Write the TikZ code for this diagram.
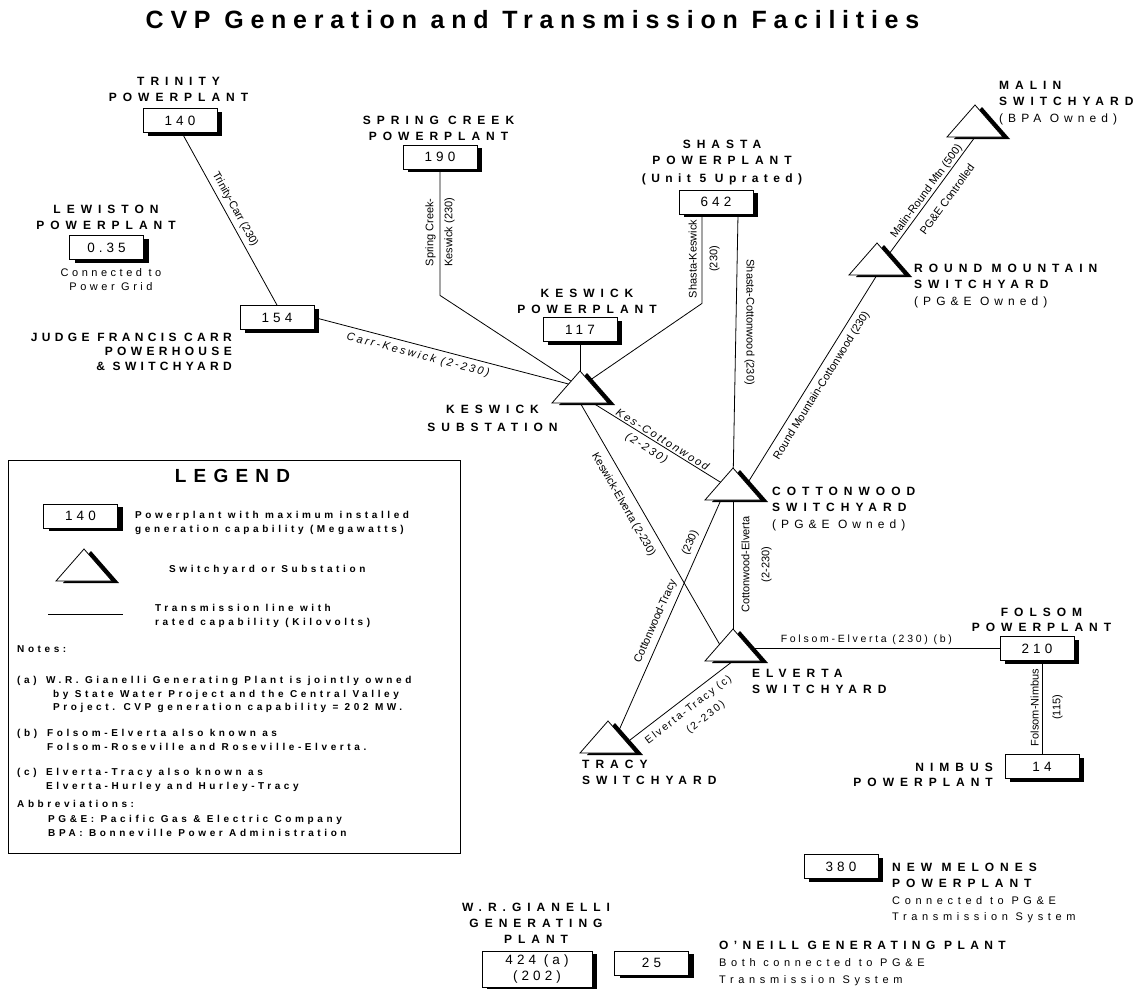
\documentclass[tikz,border=0pt]{standalone}
\usepackage{fontspec}
\setmainfont{Liberation Sans}
\newfontfamily\fLab{Liberation Sans}[LetterSpace=50]
\newfontfamily\fLabN{Liberation Sans}[LetterSpace=36]
\newfontfamily\fLabO{Liberation Sans}[LetterSpace=45]
\newfontfamily\fReg{Liberation Sans}[LetterSpace=42]
\newfontfamily\fLew{Liberation Sans}[LetterSpace=32]
\newfontfamily\fNum{Liberation Sans}[LetterSpace=30]
\newfontfamily\fLeg{Liberation Sans}[LetterSpace=36]
\newfontfamily\fLegT{Liberation Sans}[LetterSpace=38]
\newfontfamily\fTit{Liberation Sans}[LetterSpace=27]
\newfontfamily\fIta{Liberation Sans}[LetterSpace=18]
\newfontfamily\fItaW{Liberation Sans}[LetterSpace=22]
\newfontfamily\fFol{Liberation Sans}[LetterSpace=26]
\usetikzlibrary{calc,shadows}
\pgfdeclarelayer{bg}
\pgfsetlayers{bg,main}
\tikzset{
  every node/.style={inner sep=0pt},
  plant/.style={draw, line width=0.8pt, fill=white, minimum width=74pt, minimum height=24pt,
    font=\fNum\fontsize{13.5}{16}\selectfont,
    drop shadow={shadow xshift=5pt, shadow yshift=-3pt, fill=black, opacity=1}},
  stname/.style={font=\fLab\bfseries\fontsize{12}{16.5}\selectfont, align=center},
  lbl/.style={font=\fontsize{11}{13}\selectfont, inner sep=4pt},
  ilbl/.style={font=\fIta\itshape\fontsize{11}{13}\selectfont, inner sep=2pt},
  elbl/.style={font=\fIta\fontsize{10.5}{12}\selectfont, inner sep=4pt},
  leg/.style={font=\fLeg\bfseries\fontsize{10}{13.5}\selectfont, align=left, anchor=north west},
  link/.style={line width=0.8pt},
  yard/.pic={
    \fill[black] (-21,18) -- (7,-14) -- (35,18) -- cycle;
    \filldraw[fill=white, draw=black, line width=0.8pt, line join=miter] (-28,16) -- (0,-16) -- (28,16) -- cycle;
    \coordinate (-c) at (0,0);
    \coordinate (-b) at (0,16);
    \coordinate (-t) at (0,-16);
  }
}
\begin{document}
\begin{tikzpicture}[x=1pt,y=-1pt]
\useasboundingbox (0,0) rectangle (1142,988);
\begin{pgfonlayer}{bg}
\fill[white] (0,0) rectangle (1142,988);
\end{pgfonlayer}

% title
\node[font=\fTit\bfseries\fontsize{25}{30}\selectfont, anchor=base] (title) at (532.5,28) {CVP Generation and Transmission Facilities};

% powerplants
\node[plant] (trin) at (180,120.5) {140};
\node[plant] (lew) at (106.5,247.5) {0.35};
\node[plant] (carr) at (277,317.5) {154};
\node[plant] (spr) at (440,157) {190};
\node[plant] (kpp) at (580,329.5) {117};
\node[plant] (sha) at (716,202) {642};
\node[plant] (fol) at (1037,648.5) {210};
\node[plant] (nim) at (1042,766.5) {14};
\node[plant] (mel) at (841,866.5) {380};
\node[plant, minimum width=110pt, minimum height=36pt, align=center] (gia) at (537,969) {424 (a)\\(202)};
\node[plant] (one) at (651.5,963) {25};

% switchyards
\pic (kes) at (580,387) {yard};
\pic (cot) at (733,484) {yard};
\pic (elv) at (733,645) {yard};
\pic (tra) at (608,737) {yard};
\pic (mal) at (975,121) {yard};
\pic (rmt) at (877,259) {yard};

% station names
\node[stname, anchor=north] (trinL) at (178.5,76.7) {TRINITY\\POWERPLANT};
\node[stname, anchor=north] (lewL) at (106,204.7) {LEWISTON\\POWERPLANT};
\node[font=\fLew\fontsize{11}{14}\selectfont, align=center, anchor=north] (lewN) at (111,268) {Connected to\\Power Grid};
\node[stname, font=\fLabN\bfseries\fontsize{12}{14.5}\selectfont, align=right, anchor=north east] (carrL) at (232,332.7) {JUDGE FRANCIS CARR\\POWERHOUSE\\\& SWITCHYARD};
\node[stname, anchor=north] (sprL) at (438.5,115.7) {SPRING CREEK\\POWERPLANT};
\node[stname, anchor=north] (kppL) at (587,288.7) {KESWICK\\POWERPLANT};
\node[stname, anchor=north] (shaL) at (722,139.7) {SHASTA\\POWERPLANT\\[1.5pt]{\fLabO (Unit 5 Uprated)}};
\node[stname, font=\fLab\bfseries\fontsize{12}{18}\selectfont, anchor=north] (kesL) at (492.5,404.7) {KESWICK\\SUBSTATION};
\node[stname, align=left, anchor=north west] (malL) at (999,80.7) {MALIN\\SWITCHYARD\\{\fReg\mdseries (BPA Owned)}};
\node[stname, align=left, anchor=north west] (rmtL) at (914,263.7) {ROUND MOUNTAIN\\SWITCHYARD\\{\fReg\mdseries (PG\&E Owned)}};
\node[stname, align=left, anchor=north west] (cotL) at (772,486.7) {COTTONWOOD\\SWITCHYARD\\{\fReg\mdseries (PG\&E Owned)}};
\node[stname, align=left, anchor=north west] (elvL) at (752,668.7) {ELVERTA\\SWITCHYARD};
\node[stname, align=left, anchor=north west] (traL) at (582,759.7) {TRACY\\SWITCHYARD};
\node[stname, font=\fLab\bfseries\fontsize{12}{15}\selectfont, anchor=north] (folL) at (1041.5,607.7) {FOLSOM\\POWERPLANT};
\node[stname, font=\fLab\bfseries\fontsize{12}{15}\selectfont, align=right, anchor=north east] (nimL) at (993,762.7) {NIMBUS\\POWERPLANT};
\node[stname, align=left, anchor=north west] (melL) at (892,862.7) {NEW MELONES\\POWERPLANT\\{\fReg\mdseries\fontsize{11}{16.5}\selectfont Connected to PG\&E}\\{\fReg\mdseries\fontsize{11}{16.5}\selectfont Transmission System}};
\node[stname, font=\fLab\bfseries\fontsize{12}{16}\selectfont, anchor=north] (giaL) at (536,902.7) {W.R.GIANELLI\\GENERATING\\PLANT};
\node[stname, font=\fLabO\bfseries\fontsize{12}{17}\selectfont, align=left, anchor=north west] (oneL) at (719,940.7) {O’NEILL GENERATING PLANT\\{\fReg\mdseries\fontsize{11}{17}\selectfont Both connected to PG\&E}\\{\fReg\mdseries\fontsize{11}{17}\selectfont Transmission System}};

% legend
\draw[line width=1pt] (8,460) rectangle (460,853);
\node[font=\fLegT\bfseries\fontsize{19}{22}\selectfont, anchor=base] (legT) at (232.5,482.8) {LEGEND};
\node[plant] (legbox) at (80.5,516) {140};
\pic (legtri) at (84,565) {yard};
\coordinate (legl1) at (48,614);
\coordinate (legl2) at (123,614);
\draw[link] (legl1) -- (legl2);
\node[leg] (legP) at (135,511.4) {Powerplant with maximum installed\\generation capability (Megawatts)};
\node[leg] (legS) at (169,565.4) {Switchyard or Substation};
\node[leg] (legL) at (155,604.4) {Transmission line with\\rated capability (Kilovolts)};
\node[leg] (legN) at (17,645.4) {Notes:};
\node[leg] (legA) at (17,676.4) {(a)};
\node[leg] (legAt) at (46,676.4) {W.R. Gianelli Generating Plant is jointly owned\\\hspace*{7pt}by State Water Project and the Central Valley\\\hspace*{7pt}Project. CVP generation capability = 202 MW.};
\node[leg] (legB) at (17,729.4) {(b)};
\node[leg] (legBt) at (47,729.4) {Folsom-Elverta also known as\\Folsom-Roseville and Roseville-Elverta.};
\node[leg] (legC) at (17,768.4) {(c)};
\node[leg] (legCt) at (46,768.4) {Elverta-Tracy also known as\\Elverta-Hurley and Hurley-Tracy};
\node[leg] (legAb) at (17,800.4) {Abbreviations:};
\node[leg, font=\fLeg\bfseries\fontsize{10}{14}\selectfont] (legAbt) at (48,815.4) {PG\&E: Pacific Gas \& Electric Company\\BPA: Bonneville Power Administration};

% transmission lines
\begin{pgfonlayer}{bg}
\draw[link] ([xshift=2pt]trin.south) -- node[lbl, sloped, above, pos=.47] (lTC) {Trinity-Carr (230)} (carr.north);
\draw[link] (carr.east) -- node[ilbl, font=\fItaW\itshape\fontsize{11}{13}\selectfont, sloped, below, pos=.4, inner sep=5pt] (lCK) {Carr-Keswick (2-230)} (kes-c);
\draw[link] (spr.south) -- node[lbl, rotate=90, above, midway] (lSC1) {Spring Creek-} node[lbl, rotate=90, below, midway] (lSC2) {Keswick (230)} ++(0,126) -- (kes-c);
\draw[link] ([xshift=-14pt]sha.south) -- node[lbl, rotate=90, above, midway, inner sep=5pt] (lSK1) {Shasta-Keswick} node[lbl, rotate=90, below, midway, inner sep=7pt] (lSK2) {(230)} ++(0,89) -- (kes-c);
\draw[link] ([xshift=22pt]sha.south) -- node[lbl, rotate=-90, above, pos=.4, inner sep=8pt] (lSCo) {Shasta-Cottonwood (230)} (cot-c);
\draw[link] (kpp.south) -- (kes-c);
\draw[link] ($(kes-c)+(0,8)$) -- node[ilbl, sloped, above, pos=.52, inner sep=1.5pt] (lKC1) {Kes-Cottonwood} node[ilbl, sloped, below, pos=.47, inner sep=5pt] (lKC2) {(2-230)} ($(cot-c)+(0,6)$);
\draw[link] ($(kes-c)+(-9,0)$) -- node[lbl, sloped, below, pos=.43, inner sep=8pt] (lKE) {Keswick-Elverta (2-230)} ($(elv-c)+(-13,0)$);
\draw[link] (cot-c) -- node[lbl, rotate=90, below, midway, align=center, font=\fontsize{11}{20}\selectfont, inner sep=8pt] (lCE) {Cottonwood-Elverta\\(2-230)} (elv-c);
\draw[link] ($(cot-c)+(-5,0)$) -- node[lbl, sloped, above, pos=.56, inner sep=5pt] (lCT1) {Cottonwood-Tracy} node[lbl, sloped, above, pos=.25, inner sep=5pt] (lCT2) {(230)} ($(tra-c)+(8,0)$);
\draw[link] (elv-b) -- node[elbl, sloped, below, pos=.5, inner sep=6.5pt] (lET1) {Elverta-Tracy (c)} node[elbl, sloped, below, pos=.43, inner xsep=0pt, inner ysep=23pt] (lET2) {(2-230)} ($(tra-c)+(22,3)$);
\draw[link] (fol.west) -- node[elbl, font=\fFol\fontsize{10.5}{12}\selectfont, above, midway, inner sep=3pt] (lFE) {Folsom-Elverta (230) (b)} (fol.west -| elv-c);
\draw[link] (nim.north |- fol.south) -- node[lbl, rotate=90, above, midway, inner sep=3pt] (lFN1) {Folsom-Nimbus} node[lbl, rotate=90, below, midway, inner sep=10pt] (lFN2) {(115)} (nim.north);
\draw[link] ($(mal-c)+(0,16)$) -- node[lbl, sloped, above, pos=.5, inner sep=1pt] (lMR1) {Malin-Round Mtn (500)} node[lbl, sloped, below, pos=.46, inner sep=10pt] (lMR2) {PG\&E Controlled} ($(rmt-c)+(12,-5)$);
\draw[link] (rmt-b) -- node[lbl, sloped, below, pos=.5, inner sep=6pt] (lRC) {Round Mountain-Cottonwood (230)} ($(cot-c)+(14,0)$);
\end{pgfonlayer}
\end{tikzpicture}
\end{document}
